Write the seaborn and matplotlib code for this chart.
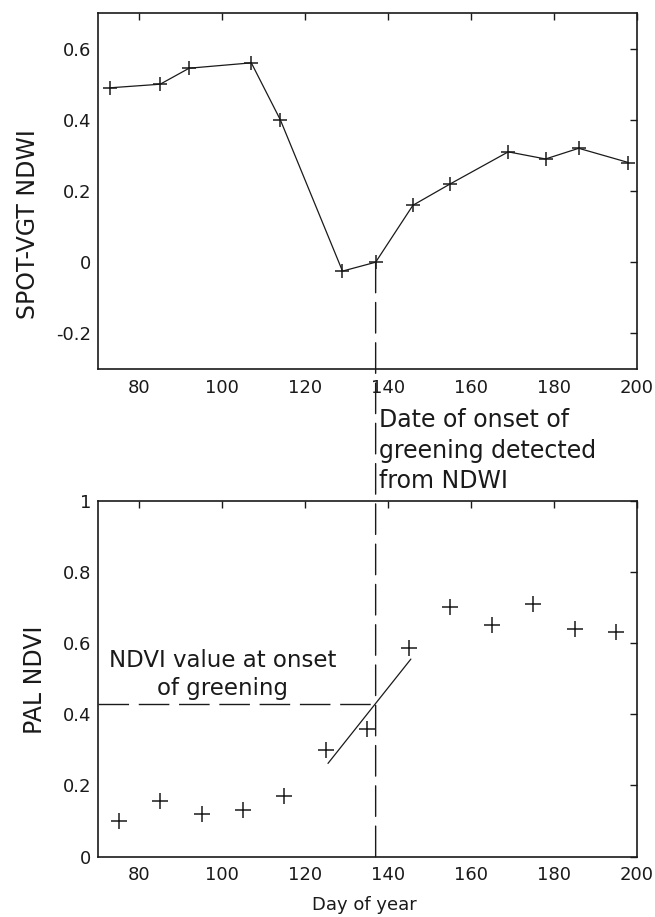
import numpy as np
import pandas as pd
import seaborn as sns
import matplotlib.pyplot as plt
from matplotlib.patches import ConnectionPatch
from matplotlib.ticker import FormatStrFormatter

# ---------- data ----------
ndwi_day = [73, 85, 92, 107, 114, 129, 137, 146, 155, 169, 178, 186, 198]
ndwi     = [0.49, 0.50, 0.545, 0.56, 0.40, -0.025, 0.0, 0.16, 0.22, 0.31, 0.29, 0.32, 0.28]

ndvi_day = [75, 85, 95, 105, 115, 125, 135, 145, 155, 165, 175, 185, 195]
ndvi     = [0.10, 0.155, 0.12, 0.13, 0.17, 0.30, 0.36, 0.585, 0.70, 0.65, 0.71, 0.64, 0.63]

fit_day  = [125.5, 145.5]      # linear fit through the greening points
fit_ndvi = [0.262, 0.555]

onset_day  = 137
onset_ndvi = 0.428

x_ticks    = [80, 100, 120, 140, 160, 180, 200]
ndwi_ticks = [-0.2, 0, 0.2, 0.4, 0.6]
ndvi_ticks = [0, 0.2, 0.4, 0.6, 0.8, 1]

# ---------- style ----------
sns.set_theme(style='white')
plt.rcParams['font.family'] = ['DejaVu Sans']
plt.rcParams['text.color'] = 'k'
plt.rcParams['axes.labelcolor'] = 'k'
plt.rcParams['xtick.color'] = 'k'
plt.rcParams['ytick.color'] = 'k'

dash = (0, (22, 7))

fig = plt.figure(figsize=(6.55, 9.17), dpi=100)
ax1 = fig.add_axes([0.1496, 0.5976, 0.8225, 0.3882])
ax2 = fig.add_axes([0.1496, 0.0658, 0.8225, 0.3882])

top = pd.DataFrame({'day': ndwi_day, 'ndwi': ndwi})
bot = pd.DataFrame({'day': ndvi_day, 'ndvi': ndvi})

sns.lineplot(data=top, x='day', y='ndwi', ax=ax1, color='k', lw=0.9,
             marker='+', markersize=10, markeredgewidth=1.1, markeredgecolor='k',
             estimator=None, sort=False)
sns.scatterplot(data=bot, x='day', y='ndvi', ax=ax2, color='k', marker='+',
                s=130, linewidth=1.1)
sns.lineplot(x=fit_day, y=fit_ndvi, ax=ax2, color='k', lw=0.9, estimator=None)
ax2.plot([70, onset_day], [onset_ndvi, onset_ndvi], color='k', lw=1.0, ls=dash)

for ax, yt, yl in [(ax1, ndwi_ticks, (-0.3, 0.7)), (ax2, ndvi_ticks, (0, 1))]:
    ax.set_xlim(70, 200)
    ax.set_ylim(*yl)
    ax.set_xticks(x_ticks)
    ax.set_yticks(yt)
    ax.yaxis.set_major_formatter(FormatStrFormatter('%g'))
    ax.tick_params(direction='in', top=True, right=True, length=5, width=1,
                   labelsize=13, colors='k')
    ax.tick_params(axis='x', pad=7)
    ax.tick_params(axis='y', pad=5)
    for s in ax.spines.values():
        s.set_color('k')
        s.set_linewidth(1.2)

ax1.set_xlabel('')
ax1.set_ylabel('SPOT-VGT NDWI', fontsize=17)
ax1.yaxis.set_label_coords(-0.107, 0.406)

ax2.set_ylabel('PAL NDVI', fontsize=17)
ax2.yaxis.set_label_coords(-0.095, 0.496)
ax2.set_xlabel('Day of year', fontsize=13)
ax2.xaxis.set_label_coords(0.495, -0.11)

# vertical dashed line from the NDWI minimum down to the NDVI axis
con = ConnectionPatch(xyA=(onset_day, 0), coordsA=ax1.transData,
                      xyB=(onset_day, 0), coordsB=ax2.transData,
                      color='k', lw=1.0, ls=dash)
fig.add_artist(con)

fig.text(379 / 655, 1 - 488 / 917,
         'Date of onset of\ngreening detected\nfrom NDWI',
         fontsize=17, va='baseline', ha='left', linespacing=1.33)
ax2.text(100, 0.454, 'NDVI value at onset\nof greening', fontsize=16.5,
         ha='center', va='baseline', multialignment='center', linespacing=1.3)

fig.savefig('out.png', dpi=100)
